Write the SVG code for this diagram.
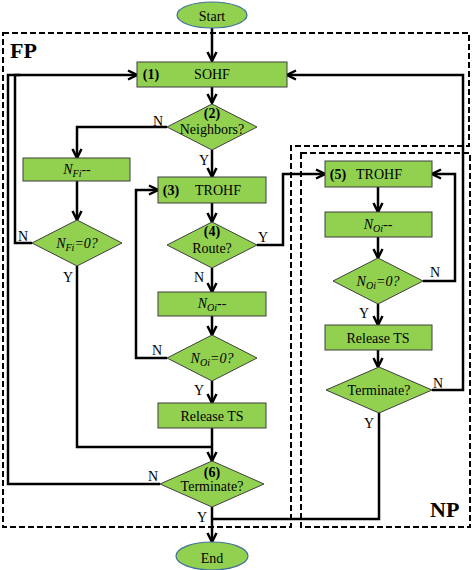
<svg xmlns="http://www.w3.org/2000/svg" width="472" height="570" viewBox="0 0 472 570">
<style>
.n{fill:#92D050;stroke:#3f3f3f;stroke-width:1}
.e{fill:#92D050;stroke:#41719C;stroke-width:1.2}
.t{font-family:"Liberation Serif",serif;font-size:14px;fill:#000;text-anchor:middle}
.b{font-weight:bold}
.i{font-style:italic}
.c{fill:none;stroke:#000;stroke-width:2.5}
.d{fill:none;stroke:#000;stroke-width:2;stroke-dasharray:6,3}
.big{font-family:"Liberation Serif",serif;font-size:22px;font-weight:bold;fill:#000}
</style>
<defs>
<marker id="a" viewBox="0 0 12 12" refX="11" refY="6" markerWidth="12" markerHeight="12" markerUnits="userSpaceOnUse" orient="auto">
<path d="M2,1.5 L11,6 L2,10.5" fill="none" stroke="#000" stroke-width="2.5"/>
</marker>
</defs>
<rect width="472" height="570" fill="#fff"/>
<g id="regions">
<path class="d" d="M3,33 H469 V146 H291 V527 H3 Z"/>
<rect class="d" x="301" y="153" width="169" height="374"/>
<text class="big" x="10" y="58">FP</text>
<text class="big" x="430" y="517">NP</text>
</g>
<g id="connectors">
<path class="c" d="M212,28 V61" marker-end="url(#a)"/>
<path class="c" d="M212,87 V103" marker-end="url(#a)"/>
<path class="c" d="M167,127 H77 V158" marker-end="url(#a)"/>
<path class="c" d="M212,150 V177" marker-end="url(#a)"/>
<path class="c" d="M77,181 V220" marker-end="url(#a)"/>
<path class="c" d="M32,243 H15 V75 H137" marker-end="url(#a)"/>
<path class="c" d="M160,484 H8 V75 H20"/>
<path class="c" d="M77,266 V447 H212"/>
<path class="c" d="M212,203 V222" marker-end="url(#a)"/>
<path class="c" d="M212,268 V292" marker-end="url(#a)"/>
<path class="c" d="M257,245 H283 V174 H325" marker-end="url(#a)"/>
<path class="c" d="M212,316 V335" marker-end="url(#a)"/>
<path class="c" d="M167,358 H136 V190 H158" marker-end="url(#a)"/>
<path class="c" d="M212,381 V403" marker-end="url(#a)"/>
<path class="c" d="M212,428 V461" marker-end="url(#a)"/>
<path class="c" d="M212,507 V542" marker-end="url(#a)"/>
<path class="c" d="M378,187 V212" marker-end="url(#a)"/>
<path class="c" d="M378,237 V258" marker-end="url(#a)"/>
<path class="c" d="M423,281 H455 V174 H432" marker-end="url(#a)"/>
<path class="c" d="M378,304 V325" marker-end="url(#a)"/>
<path class="c" d="M378,350 V367" marker-end="url(#a)"/>
<path class="c" d="M432,390 H463 V75 H287" marker-end="url(#a)"/>
<path class="c" d="M379,413 V519 H212"/>
<g class="t">
<text x="158" y="126">N</text>
<text x="204" y="165">Y</text>
<text x="23" y="241">N</text>
<text x="68" y="282">Y</text>
<text x="199" y="282">N</text>
<text x="263" y="242">Y</text>
<text x="157" y="355">N</text>
<text x="199" y="395">Y</text>
<text x="153" y="481">N</text>
<text x="202" y="522">Y</text>
<text x="435" y="277">N</text>
<text x="364" y="318">Y</text>
<text x="438" y="388">N</text>
<text x="369" y="428">Y</text>
</g>
</g>
<g id="start">
<ellipse class="e" cx="212" cy="15" rx="35" ry="13"/>
<text class="t" x="212" y="21">Start</text>
</g>
<g id="n1">
<rect class="n" x="137" y="62" width="150" height="25"/>
<text class="t b" x="151" y="79">(1)</text>
<text class="t" x="212" y="79">SOHF</text>
</g>
<g id="n2">
<polygon class="n" points="212,104 257,127 212,150 167,127"/>
<text class="t b" x="212" y="118">(2)</text>
<text class="t" x="212" y="134">Neighbors?</text>
</g>
<g id="nfi">
<rect class="n" x="23" y="158" width="107" height="23"/>
<text class="t i" x="77" y="174">N<tspan font-size="10" dy="3">Fi</tspan><tspan dy="-3">--</tspan></text>
</g>
<g id="nfi0">
<polygon class="n" points="77,220 122,243 77,266 32,243"/>
<text class="t i" x="77" y="248">N<tspan font-size="10" dy="3">Fi</tspan><tspan dy="-3">=0?</tspan></text>
</g>
<g id="n3">
<rect class="n" x="158" y="177" width="108" height="26"/>
<text class="t b" x="171" y="195">(3)</text>
<text class="t" x="218" y="195">TROHF</text>
</g>
<g id="n4">
<polygon class="n" points="212,222 257,245 212,268 167,245"/>
<text class="t b" x="212" y="236">(4)</text>
<text class="t" x="212" y="253">Route?</text>
</g>
<g id="noi1">
<rect class="n" x="158" y="292" width="108" height="24"/>
<text class="t i" x="212" y="308">N<tspan font-size="10" dy="3">Oi</tspan><tspan dy="-3">--</tspan></text>
</g>
<g id="noi0a">
<polygon class="n" points="212,335 257,358 212,381 167,358"/>
<text class="t i" x="212" y="363">N<tspan font-size="10" dy="3">Oi</tspan><tspan dy="-3">=0?</tspan></text>
</g>
<g id="rel1">
<rect class="n" x="158" y="403" width="108" height="25"/>
<text class="t" x="212" y="421">Release TS</text>
</g>
<g id="n6">
<polygon class="n" points="212,461 264,484 212,507 160,484"/>
<text class="t b" x="212" y="477">(6)</text>
<text class="t" x="212" y="491">Terminate?</text>
</g>
<g id="end">
<ellipse class="e" cx="212" cy="556" rx="36" ry="14"/>
<text class="t" x="212" y="563">End</text>
</g>
<g id="n5">
<rect class="n" x="325" y="161" width="107" height="26"/>
<text class="t b" x="338" y="179">(5)</text>
<text class="t" x="379" y="179">TROHF</text>
</g>
<g id="noi2">
<rect class="n" x="325" y="212" width="107" height="25"/>
<text class="t i" x="378" y="229">N<tspan font-size="10" dy="3">Oi</tspan><tspan dy="-3">--</tspan></text>
</g>
<g id="noi0b">
<polygon class="n" points="378,258 423,281 378,304 333,281"/>
<text class="t i" x="378" y="286">N<tspan font-size="10" dy="3">Oi</tspan><tspan dy="-3">=0?</tspan></text>
</g>
<g id="rel2">
<rect class="n" x="325" y="325" width="107" height="25"/>
<text class="t" x="378" y="343">Release TS</text>
</g>
<g id="term2">
<polygon class="n" points="379,367 432,390 379,413 326,390"/>
<text class="t" x="379" y="395">Terminate?</text>
</g>
</svg>
